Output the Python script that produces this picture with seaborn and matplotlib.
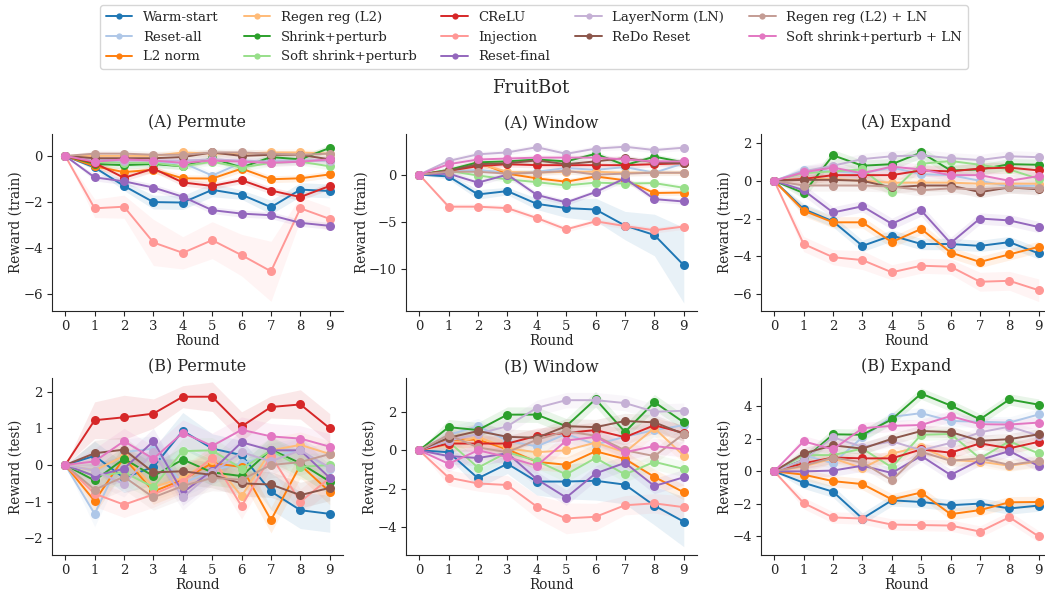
import numpy as np
import pandas as pd
import matplotlib
matplotlib.use("Agg")
import matplotlib.pyplot as plt
import seaborn as sns

ROUNDS = list(range(10))
METHODS = ["Warm-start", "Reset-all", "L2 norm", "Regen reg (L2)", "Shrink+perturb",
           "Soft shrink+perturb", "CReLU", "Injection", "Reset-final", "LayerNorm (LN)",
           "ReDo Reset", "Regen reg (L2) + LN", "Soft shrink+perturb + LN"]
COLORS = ["#1f77b4", "#aec7e8", "#ff7f0e", "#ffbb78", "#2ca02c", "#98df8a", "#d62728",
          "#ff9896", "#9467bd", "#c5b0d5", "#8c564b", "#c49c94", "#e377c2"]

A_PERMUTE = {
    "Warm-start": [0, -0.5, -1.3, -2.0, -2.02, -1.47, -1.68, -2.22, -1.46, -1.52],
    "Reset-all": [0, -0.2, -0.3, -0.3, -0.3, -0.85, -0.3, -0.2, -0.2, -0.2],
    "L2 norm": [0, -0.45, -0.7, -0.6, -0.97, -0.98, -0.55, -1.01, -0.97, -0.8],
    "Regen reg (L2)": [0, 0.0, 0.0, 0.0, 0.15, 0.1, 0.1, 0.15, 0.15, 0.1],
    "Shrink+perturb": [0, -0.35, -0.4, -0.35, -0.45, -0.1, -0.5, -0.05, -0.15, 0.35],
    "Soft shrink+perturb": [0, -0.25, -0.3, -0.3, -0.45, -0.25, -0.5, -0.3, -0.25, -0.45],
    "CReLU": [0, -0.3, -0.95, -0.55, -1.15, -1.3, -1.05, -1.5, -1.78, -1.3],
    "Injection": [0, -2.27, -2.2, -3.75, -4.2, -3.65, -4.3, -5.0, -2.27, -2.73],
    "Reset-final": [0, -0.93, -1.1, -1.37, -1.77, -2.35, -2.5, -2.57, -2.9, -3.03],
    "LayerNorm (LN)": [0, -0.15, -0.2, -0.2, -0.2, -0.15, -0.2, -0.25, -0.2, -0.2],
    "ReDo Reset": [0, -0.1, -0.1, -0.1, -0.05, 0.15, 0.0, 0.05, 0.05, -0.15],
    "Regen reg (L2) + LN": [0, 0.1, 0.1, 0.05, 0.05, 0.15, 0.15, 0.1, 0.05, 0.1],
    "Soft shrink+perturb + LN": [0, -0.25, -0.15, -0.2, -0.3, -0.2, -0.25, -0.3, -0.25, -0.15],
}
A_WINDOW = {
    "Warm-start": [0, -0.2, -2.1, -1.75, -3.1, -3.55, -3.7, -5.4, -6.4, -9.6],
    "Reset-all": [0, 0.3, 0.5, 0.2, 0.3, 0.7, 0.5, 0.8, 0.2, 1.2],
    "L2 norm": [0, 0.3, 1.3, 0.1, -0.4, -0.75, -0.2, -0.6, -1.95, -1.9],
    "Regen reg (L2)": [0, 0.4, 1.2, 0.3, 0.2, 0.3, 0.3, 0.2, 0.2, 0.2],
    "Shrink+perturb": [0, 0.5, 1.3, 1.4, 1.6, 1.4, 2.2, 1.0, 1.9, 1.3],
    "Soft shrink+perturb": [0, 0.4, -0.1, -0.5, -0.8, -1.15, -0.85, -0.95, -0.9, -1.4],
    "CReLU": [0, 0.4, 0.9, 1.1, 1.0, 1.0, 1.0, 1.0, 1.1, 1.2],
    "Injection": [0, -3.4, -3.4, -3.55, -4.6, -5.8, -4.95, -5.45, -5.9, -5.5],
    "Reset-final": [0, 0.1, -0.85, 0.0, -2.15, -2.95, -1.85, -0.4, -2.6, -2.85],
    "LayerNorm (LN)": [0, 1.45, 2.15, 2.35, 2.9, 2.2, 2.75, 2.95, 2.6, 2.85],
    "ReDo Reset": [0, 0.4, 1.1, 1.2, 1.5, 1.1, 1.4, 1.75, 1.3, 1.2],
    "Regen reg (L2) + LN": [0, 0.3, 0.3, 0.1, 0.2, 0.4, 0.0, 0.1, 0.2, 0.2],
    "Soft shrink+perturb + LN": [0, 1.1, 1.6, 1.7, 1.8, 1.8, 1.8, 1.6, 1.4, 1.4],
}
A_EXPAND = {
    "Warm-start": [0, -1.5, -2.15, -3.45, -2.9, -3.35, -3.35, -3.45, -3.25, -3.85],
    "Reset-all": [0, 0.55, 0.5, 0.4, 0.7, 0.35, 0.3, 0.0, -0.3, -0.25],
    "L2 norm": [0, -1.58, -2.2, -2.2, -3.25, -2.55, -3.8, -4.3, -3.9, -3.5],
    "Regen reg (L2)": [0, 0.1, 0.1, 0.0, -0.1, -0.1, -0.1, -0.15, -0.15, -0.15],
    "Shrink+perturb": [0, -0.65, 1.35, 0.8, 0.88, 1.5, 0.55, 0.6, 0.88, 0.85],
    "Soft shrink+perturb": [0, 0.4, 0.5, 0.6, -0.6, 0.9, 1.05, 0.85, 0.6, 0.1],
    "CReLU": [0, 0.1, 0.3, 0.3, 0.3, 0.55, 0.5, 0.65, 0.7, 0.55],
    "Injection": [0, -3.35, -4.05, -4.2, -4.85, -4.5, -4.55, -5.35, -5.3, -5.8],
    "Reset-final": [0, -0.5, -1.68, -1.35, -2.28, -1.57, -3.3, -2.0, -2.1, -2.45],
    "LayerNorm (LN)": [0, 0.5, 0.8, 1.15, 1.3, 1.35, 1.2, 1.1, 1.3, 1.25],
    "ReDo Reset": [0, 0.05, 0.05, 0.0, -0.35, -0.25, -0.25, -0.6, -0.35, -0.45],
    "Regen reg (L2) + LN": [0, -0.25, -0.25, -0.25, -0.3, -0.5, -0.4, -0.45, -0.35, -0.4],
    "Soft shrink+perturb + LN": [0, 0.45, 0.7, 0.4, 0.75, 0.6, 0.3, 0.3, 0.0, 0.25],
}
B_PERMUTE = {
    "Warm-start": [0, 0.25, -0.35, -0.05, 0.93, 0.45, 0.27, -0.72, -1.23, -1.33],
    "Reset-all": [0, -1.33, 0.35, 0.45, -0.5, -0.15, 0.05, 0.25, 0.4, -0.1],
    "L2 norm": [0, -0.98, 0.2, -0.72, -0.4, 0.05, -0.05, -1.5, 0.0, -0.73],
    "Regen reg (L2)": [0, -0.15, 0.25, -0.6, -0.35, 0.15, -0.85, 0.4, 0.55, 0.3],
    "Shrink+perturb": [0, -0.42, 0.17, -0.3, 0.15, -0.2, -0.3, 0.42, 0.05, -0.45],
    "Soft shrink+perturb": [0, -0.3, -0.2, -0.6, 0.38, 0.4, -0.1, 0.4, -0.05, 0.0],
    "CReLU": [0, 1.22, 1.3, 1.4, 1.86, 1.86, 1.05, 1.58, 1.65, 1.0],
    "Injection": [0, -0.78, -1.08, -0.8, -0.45, 0.2, -1.12, 0.25, -1.0, -0.35],
    "Reset-final": [0, -0.3, -0.1, 0.65, -0.75, -0.15, 0.62, 0.4, 0.4, -0.35],
    "LayerNorm (LN)": [0, -0.15, -0.52, 0.35, -0.88, -0.2, 0.35, 0.1, 0.4, -0.07],
    "ReDo Reset": [0, 0.32, 0.42, -0.2, -0.17, -0.27, -0.5, -0.53, -0.82, -0.62],
    "Regen reg (L2) + LN": [0, -0.67, -0.32, -0.88, -0.57, -0.35, -0.4, 0.0, 0.08, 0.3],
    "Soft shrink+perturb + LN": [0, 0.1, 0.65, 0.17, 0.88, 0.52, 0.96, 0.78, 0.72, 0.5],
}
B_WINDOW = {
    "Warm-start": [0, -0.1, -1.45, -0.7, -1.62, -1.62, -1.58, -1.78, -2.87, -3.7],
    "Reset-all": [0, 0.8, 1.25, 0.5, 0.2, 0.85, 0.3, 0.7, 1.05, 1.3],
    "L2 norm": [0, 0.55, 0.55, 0.05, -0.6, -0.75, -0.05, -0.45, -1.38, -2.18],
    "Regen reg (L2)": [0, 0.3, 0.7, 0.1, -0.1, 0.0, 0.4, -0.1, 1.15, -0.28],
    "Shrink+perturb": [0, 1.2, 1.05, 1.85, 1.85, 1.25, 2.65, 0.95, 2.5, 1.45],
    "Soft shrink+perturb": [0, 0.45, -0.9, -0.1, -0.55, -1.25, -0.4, -1.25, -0.6, -0.97],
    "CReLU": [0, 0.35, 0.35, 0.35, 0.75, 0.9, 1.05, 0.68, 1.3, 0.9],
    "Injection": [0, -1.42, -1.72, -1.8, -2.92, -3.53, -3.45, -2.85, -2.75, -2.95],
    "Reset-final": [0, -0.3, -0.4, -0.15, -1.5, -2.45, -1.2, -0.65, -1.85, -1.4],
    "LayerNorm (LN)": [0, 0.5, 0.85, 1.25, 2.2, 2.6, 2.6, 2.45, 2.0, 2.05],
    "ReDo Reset": [0, 0.65, 1.0, 0.7, 0.65, 1.25, 1.2, 1.52, 1.45, 0.85],
    "Regen reg (L2) + LN": [0, 0.8, 0.15, -0.1, 0.55, 1.0, 0.75, 0.0, -0.3, 0.85],
    "Soft shrink+perturb + LN": [0, -0.7, 0.0, -0.35, -0.8, 0.5, 0.7, -0.1, 0.22, 0.05],
}
B_EXPAND = {
    "Warm-start": [0, -0.7, -1.25, -2.9, -1.78, -1.88, -2.08, -1.98, -2.28, -2.1],
    "Reset-all": [0, 1.0, 0.5, 2.1, 3.35, 3.58, 3.1, 3.05, 3.0, 3.5],
    "L2 norm": [0, -0.2, -0.6, -0.78, -1.72, -1.3, -2.63, -2.38, -1.9, -1.88],
    "Regen reg (L2)": [0, 0.3, 0.8, 0.2, 1.1, 1.5, 0.7, 0.6, 0.35, 0.6],
    "Shrink+perturb": [0, 0.7, 2.28, 2.25, 3.2, 4.78, 4.05, 3.2, 4.42, 4.1],
    "Soft shrink+perturb": [0, 1.0, 1.0, 1.4, 0.25, 2.25, 2.3, 0.8, 1.85, 1.1],
    "CReLU": [0, 0.5, 0.85, 0.8, 0.8, 1.35, 1.15, 1.72, 1.42, 1.82],
    "Injection": [0, -1.95, -2.83, -2.9, -3.27, -3.3, -3.33, -3.7, -2.82, -4.0],
    "Reset-final": [0, 0.0, 0.05, 0.35, -0.1, 0.95, -0.22, 0.7, 1.25, 0.33],
    "LayerNorm (LN)": [0, 0.7, 2.1, 1.5, 1.85, 1.3, 1.75, 2.4, 2.75, 2.2],
    "ReDo Reset": [0, 1.1, 1.6, 1.4, 2.0, 2.48, 2.42, 1.88, 1.98, 2.28],
    "Regen reg (L2) + LN": [0, 0.35, 0.85, 0.55, -0.55, 1.2, 0.65, 0.8, 0.4, 0.65],
    "Soft shrink+perturb + LN": [0, 1.85, 1.35, 2.65, 2.8, 2.85, 3.4, 2.9, 2.88, 3.0],
}

# Half-width of shaded bands (default per panel, plus a few series read individually)
BAND_DEFAULT = {"A_PERMUTE": 0.15, "A_WINDOW": 0.3, "A_EXPAND": 0.3,
                "B_PERMUTE": 0.35, "B_WINDOW": 0.4, "B_EXPAND": 0.35}
BAND_DETAIL = {
    ("A_PERMUTE", "Injection"): [0, 0.4, 0.5, 1.0, 0.7, 0.8, 0.9, 1.3, 0.5, 0.5],
    ("A_PERMUTE", "Warm-start"): [0, 0.1, 0.2, 0.3, 0.3, 0.3, 0.2, 0.3, 0.3, 0.3],
    ("A_WINDOW", "Warm-start"): [0, 0.3, 0.5, 0.4, 0.6, 1.0, 1.2, 1.5, 2.2, 4.0],
    ("A_EXPAND", "Injection"): [0, 0.4, 0.4, 0.5, 0.4, 0.4, 0.4, 0.5, 0.5, 0.6],
    ("B_PERMUTE", "CReLU"): [0, 0.5, 0.6, 0.4, 0.3, 0.4, 0.4, 0.3, 0.4, 0.4],
    ("B_PERMUTE", "Warm-start"): [0, 0.4, 0.4, 0.5, 0.5, 0.4, 0.4, 0.5, 0.5, 0.5],
    ("B_WINDOW", "Warm-start"): [0, 0.3, 0.5, 0.5, 0.7, 0.9, 1.0, 1.0, 1.0, 1.3],
    ("B_WINDOW", "Injection"): [0, 0.4, 0.4, 0.5, 0.6, 0.8, 0.7, 0.5, 0.5, 0.6],
}

PANELS = [("A_PERMUTE", A_PERMUTE, "(A) Permute", "Reward (train)", (-6.72, 0.95), [0, -2, -4, -6]),
          ("A_WINDOW", A_WINDOW, "(A) Window", "Reward (train)", (-14.45, 4.3), [0, -5, -10]),
          ("A_EXPAND", A_EXPAND, "(A) Expand", "Reward (train)", (-6.9, 2.48), [2, 0, -2, -4, -6]),
          ("B_PERMUTE", B_PERMUTE, "(B) Permute", "Reward (test)", (-2.45, 2.37), [2, 1, 0, -1, -2]),
          ("B_WINDOW", B_WINDOW, "(B) Window", "Reward (test)", (-5.43, 3.75), [2, 0, -2, -4]),
          ("B_EXPAND", B_EXPAND, "(B) Expand", "Reward (test)", (-5.14, 5.74), [4, 2, 0, -2, -4])]

sns.set_style("ticks")
plt.rcParams["font.family"] = ["DejaVu Serif"]
plt.rcParams["axes.unicode_minus"] = True
plt.rcParams["xtick.major.size"] = 3.5
plt.rcParams["ytick.major.size"] = 3.5
plt.rcParams["xtick.major.pad"] = 3
plt.rcParams["ytick.major.pad"] = 3

fig = plt.figure(figsize=(10.45, 5.92), dpi=100)
W, H = 1045.0, 592.0
lefts = [52, 406, 761]
width = 291
tops = [134, 378]
height = 177

palette = dict(zip(METHODS, COLORS))
handles = labels = None
for i, (key, data, title, ylabel, ylim, yt) in enumerate(PANELS):
    r, c = divmod(i, 3)
    ax = fig.add_axes([lefts[c] / W, 1 - (tops[r] + height) / H, width / W, height / H])
    rows = []
    for m in METHODS:
        for x, y in zip(ROUNDS, data[m]):
            rows.append({"Round": x, "Reward": y, "Method": m})
    df = pd.DataFrame(rows)
    for m in METHODS:
        vals = np.array(data[m], dtype=float)
        hw = np.array(BAND_DETAIL.get((key, m), [0] + [BAND_DEFAULT[key]] * 9), dtype=float)
        ax.fill_between(ROUNDS, vals - hw, vals + hw, color=palette[m], alpha=0.1, lw=0)
    sns.lineplot(data=df, x="Round", y="Reward", hue="Method", hue_order=METHODS,
                 palette=palette, marker="o", markersize=6.5, markeredgewidth=0,
                 linewidth=1.4, errorbar=None, ax=ax, legend=(i == 0))
    if i == 0:
        handles, labels = ax.get_legend_handles_labels()
        ax.get_legend().remove()
    ax.set_title(title, fontsize=11.5, pad=5)
    ax.set_ylabel(ylabel, fontsize=9.8, labelpad=0.5)
    ax.set_xlabel("Round", fontsize=9.8, labelpad=1)
    ax.set_xticks(ROUNDS)
    ax.set_ylim(*ylim)
    ax.set_yticks(yt)
    ax.tick_params(labelsize=9.5)
    sns.despine(ax=ax)

for h in handles:
    h.set_markersize(4.5)
fig.legend(handles, labels, loc="upper center", bbox_to_anchor=(0.511, 1 - 5 / H), ncol=5,
           fontsize=9.5, frameon=True, handlelength=2.0, columnspacing=1.9,
           labelspacing=0.5, borderpad=0.45, borderaxespad=0)
fig.text(0.508, 1 - 88 / H, "FruitBot", ha="center", va="center", fontsize=13)
fig.savefig("out.png", dpi=100)
